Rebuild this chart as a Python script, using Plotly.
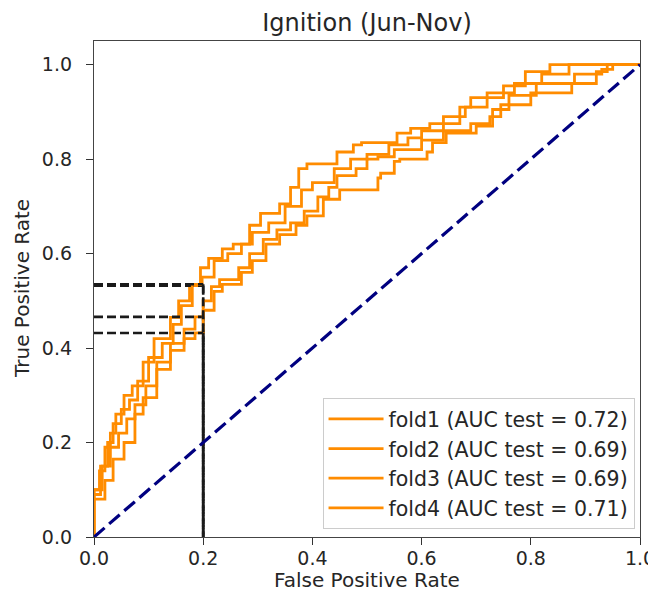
import plotly.graph_objects as go

# ---- data ----
fold_names = ["fold1 (AUC test = 0.72)", "fold2 (AUC test = 0.69)",
              "fold3 (AUC test = 0.69)", "fold4 (AUC test = 0.71)"]

fpr1 = [0, 0, 0.01, 0.02, 0.03, 0.04, 0.055, 0.07, 0.09, 0.11, 0.14, 0.155, 0.175, 0.195,
        0.21, 0.235, 0.255, 0.285, 0.305, 0.34, 0.36, 0.375, 0.39, 0.445, 0.475, 0.49,
        0.555, 0.58, 0.615, 0.67, 0.69, 0.75, 0.79, 0.835, 0.91, 1.0]
tpr1 = [0, 0.05, 0.10, 0.14, 0.19, 0.22, 0.26, 0.30, 0.32, 0.37, 0.42, 0.465, 0.50, 0.532,
        0.57, 0.59, 0.61, 0.62, 0.66, 0.685, 0.705, 0.74, 0.78, 0.79, 0.815, 0.83,
        0.835, 0.855, 0.865, 0.875, 0.91, 0.93, 0.955, 0.985, 1.0, 1.0]

fpr2 = [0, 0, 0.015, 0.03, 0.045, 0.06, 0.075, 0.095, 0.115, 0.14, 0.165, 0.185, 0.2,
        0.215, 0.23, 0.265, 0.285, 0.31, 0.335, 0.36, 0.385, 0.41, 0.43, 0.445, 0.48,
        0.5, 0.52, 0.55, 0.6, 0.64, 0.69, 0.725, 0.745, 0.8, 0.875, 0.92, 0.94, 0.985, 1.0]
tpr2 = [0, 0.05, 0.1, 0.15, 0.19, 0.22, 0.25, 0.28, 0.32, 0.37, 0.41, 0.44, 0.466,
        0.5, 0.53, 0.545, 0.57, 0.6, 0.63, 0.65, 0.665, 0.69, 0.72, 0.74, 0.765,
        0.78, 0.8, 0.805, 0.82, 0.84, 0.86, 0.875, 0.89, 0.915, 0.94, 0.96, 0.985, 1.0, 1.0]

fpr3 = [0, 0, 0.02, 0.035, 0.055, 0.075, 0.09, 0.115, 0.14, 0.165, 0.185, 0.2, 0.22,
        0.235, 0.27, 0.29, 0.315, 0.34, 0.37, 0.39, 0.42, 0.45, 0.49, 0.52, 0.525, 0.55,
        0.56, 0.61, 0.62, 0.645, 0.7, 0.73, 0.76, 0.81, 0.88, 0.93, 0.95, 0.99, 1.0]
tpr3 = [0, 0.04, 0.08, 0.12, 0.165, 0.2, 0.26, 0.295, 0.355, 0.395, 0.42, 0.432, 0.48,
        0.52, 0.535, 0.56, 0.585, 0.62, 0.64, 0.66, 0.68, 0.715, 0.735, 0.735, 0.76, 0.77,
        0.795, 0.8, 0.815, 0.835, 0.855, 0.87, 0.905, 0.935, 0.96, 0.98, 0.99, 1.0, 1.0]

fpr4 = [0, 0, 0.012, 0.025, 0.035, 0.05, 0.065, 0.08, 0.1, 0.125, 0.145, 0.16, 0.18, 0.198,
        0.22, 0.245, 0.27, 0.29, 0.32, 0.35, 0.38, 0.4, 0.44, 0.47, 0.5, 0.54, 0.575, 0.6,
        0.64, 0.68, 0.72, 0.77, 0.82, 0.87, 0.93, 1.0]
tpr4 = [0, 0.04, 0.09, 0.15, 0.2, 0.24, 0.27, 0.29, 0.33, 0.38, 0.41, 0.45, 0.49, 0.535,
        0.55, 0.585, 0.6, 0.62, 0.645, 0.665, 0.7, 0.735, 0.75, 0.78, 0.8, 0.81, 0.83, 0.845,
        0.86, 0.89, 0.91, 0.94, 0.96, 0.98, 1.0, 1.0]

fprs = [fpr1, fpr2, fpr3, fpr4]
tprs = [tpr1, tpr2, tpr3, tpr4]

threshold_fpr = 0.2
tpr_at_threshold = [0.532, 0.466, 0.432, 0.535]

tick_vals = [0.0, 0.2, 0.4, 0.6, 0.8, 1.0]
tick_text = ["0.0", "0.2", "0.4", "0.6", "0.8", "1.0"]

title_text = "Ignition (Jun-Nov)"
x_title = "False Positive Rate"
y_title = "True Positive Rate"

# ---- figure ----
# The page body adds an 8px margin, so the figure is sized to fill the rest of the window.
FONT = "DejaVu Sans"
TXT = "#262626"
W, H = 648, 587
ML, MR, MT, MB = 86, 16, 33, 58

fig = go.Figure()

for i in range(4):
    fig.add_trace(go.Scatter(
        x=fprs[i], y=tprs[i], mode="lines", name=fold_names[i],
        line=dict(color="#FF8C00", width=2.8, shape="vh"), showlegend=True))
    t = tpr_at_threshold[i]
    fig.add_trace(go.Scatter(
        x=[0, threshold_fpr], y=[t, t], mode="lines",
        line=dict(color="#1a1a1a", width=2.6, dash="9px,4px"),
        showlegend=False, hoverinfo="skip"))
    fig.add_trace(go.Scatter(
        x=[threshold_fpr, threshold_fpr], y=[t, 0], mode="lines",
        line=dict(color="#1a1a1a", width=2.6, dash="9px,4px"),
        showlegend=False, hoverinfo="skip"))

fig.add_trace(go.Scatter(
    x=[0, 1], y=[0, 1], mode="lines",
    line=dict(color="#000080", width=3.2, dash="14px,6px"),
    showlegend=False, hoverinfo="skip"))

axis_common = dict(
    tickvals=tick_vals, ticktext=tick_text, ticks="outside", ticklen=7, tickwidth=1.2,
    tickcolor="#333333", showline=True, linecolor="#444444", linewidth=1.3, mirror=True,
    showgrid=False, zeroline=False, automargin=False,
    tickfont=dict(family=FONT, size=19, color=TXT),
)

fig.update_layout(
    width=W, height=H,
    margin=dict(l=ML, r=MR, t=MT, b=MB),
    paper_bgcolor="white", plot_bgcolor="white",
    title=dict(text=title_text, x=(ML + (W - MR)) / 2 / W, xanchor="center",
               y=1 - 15 / H, yanchor="middle",
               font=dict(family=FONT, size=24, color=TXT)),
    xaxis=dict(range=[0, 1], ticklabelstandoff=-3, **axis_common),
    yaxis=dict(range=[0, 1.05], ticklabelstandoff=10, **axis_common),
    legend=dict(x=0.99, y=0.016, xanchor="right", yanchor="bottom",
                bgcolor="rgba(255,255,255,0.8)", bordercolor="#cccccc", borderwidth=1,
                font=dict(family=FONT, size=20.5, color=TXT), itemwidth=55),
    annotations=[
        dict(text=x_title, x=0.5, y=0, xref="paper", yref="paper",
             xanchor="center", yanchor="middle", yshift=-43, showarrow=False,
             font=dict(family=FONT, size=20, color=TXT)),
        dict(text=y_title, x=0, y=0.5, xref="paper", yref="paper",
             xanchor="center", yanchor="middle", xshift=-72, textangle=-90,
             showarrow=False, font=dict(family=FONT, size=20, color=TXT)),
    ],
)

fig.write_html("out.html")
